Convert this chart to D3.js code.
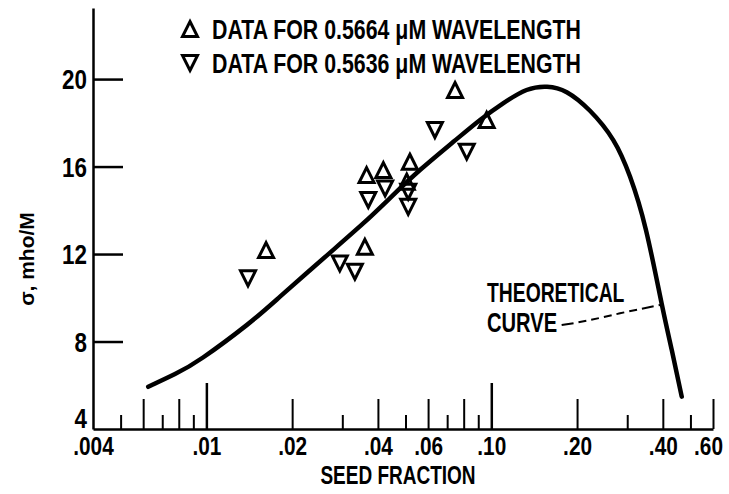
<!DOCTYPE html>
<html>
<head>
<meta charset="utf-8">
<script src="https://cdn.jsdelivr.net/npm/d3@7"></script>
<style>
  body { margin: 0; background: #fff; }
  svg { display: block; }
  .cond { font-family: "Liberation Sans", Arial, sans-serif; font-weight: bold; fill: #000; }
</style>
</head>
<body>
<div class="chart"></div>
<script>
// measured points, 0.5664 uM wavelength (up triangles)
const upSeed = [0.0162, 0.0360, 0.0365, 0.0418, 0.0505, 0.0518, 0.0746, 0.0963]
const upSigma = [12.18, 12.33, 15.61, 15.84, 15.31, 16.22, 19.5, 18.13]

// measured points, 0.5636 uM wavelength (down triangles)
const downSeed = [0.0140, 0.0294, 0.0332, 0.0370, 0.0424, 0.0511, 0.0511, 0.0634, 0.0820]
const downSigma = [10.89, 11.57, 11.19, 14.47, 15.0, 14.85, 14.16, 17.67, 16.68]

// theoretical curve
const curveSeed = [0.00625, 0.00776, 0.00973, 0.01385, 0.01813, 0.02644, 0.0355, 0.0441, 0.0562, 0.0736, 0.0913,
  0.110, 0.133, 0.157, 0.184, 0.222, 0.268, 0.307, 0.349, 0.396, 0.430, 0.466]
const curveSigma = [5.93, 6.51, 7.27, 8.75, 10.05, 11.93, 13.40, 14.56, 15.84, 17.13, 18.13,
  18.89, 19.50, 19.65, 19.40, 18.55, 17.21, 15.53, 13.10, 9.75, 7.61, 5.48]

// leader line from the "CURVE" label to the curve
const leaderSeed = [0.1766, 0.222, 0.283, 0.391]
const leaderSigma = [8.75, 8.98, 9.29, 9.67]

// axis ticks
const yTicks = [4, 8, 12, 16, 20]
const xMajor = [0.01, 0.1]
const xMid = [0.006, 0.008, 0.02, 0.04, 0.06, 0.08, 0.2, 0.4, 0.6]
const xMinor = [0.005, 0.007, 0.009, 0.03, 0.05, 0.07, 0.09, 0.3, 0.5]
const xLabelVals = [0.004, 0.01, 0.02, 0.04, 0.06, 0.1, 0.2, 0.4, 0.6]
const xLabels = [".004", ".01", ".02", ".04", ".06", ".10", ".20", ".40", ".60"]

const legendLabels = ["DATA FOR 0.5664 \u03bcM WAVELENGTH", "DATA FOR 0.5636 \u03bcM WAVELENGTH"]

const width = 729, height = 494

const svg = d3.select(".chart").append("svg").attr("width", width).attr("height", height)

const x = d3.scaleLog().domain([0.004, 0.6]).range([93, 713])
const y = d3.scaleLinear().domain([4, 23.25]).range([429, 8])

// narrow lettering: keep the glyph height, shrink the advance
const squeeze = (sel, f) => sel.each(function () {
  const w = this.getComputedTextLength()
  d3.select(this).attr("textLength", w * f).attr("lengthAdjust", "spacingAndGlyphs")
})

// y axis, ticks point into the plot
const yAxis = d3.axisLeft(y).tickValues(yTicks).tickSize(-30).tickSizeOuter(0).tickPadding(6)
const gy = svg.append("g").attr("transform", `translate(${x.range()[0]},0)`).call(yAxis)
gy.attr("font-size", null).attr("font-family", null)
gy.select(".domain").attr("stroke-width", 2.5)
gy.selectAll(".tick line").attr("stroke-width", 2.5).filter(d => d === 4).remove()
gy.selectAll(".tick text")
  .attr("class", "cond")
  .attr("font-size", 28)
  .attr("dy", d => (d === 4 ? "-0.04em" : "0.35em"))
  .call(squeeze, 0.8)

// x axis: baseline plus log ticks of three lengths
const tickLen = d => (xMajor.includes(d) ? 46 : xMid.includes(d) ? 30 : 14)
const xAxis = d3.axisBottom(x).tickValues([...xMajor, ...xMid, ...xMinor]).tickFormat("").tickSize(0).tickSizeOuter(0)
const gx = svg.append("g").attr("transform", `translate(0,${y(4)})`).call(xAxis)
gx.select(".domain").attr("stroke-width", 2.5)
gx.selectAll(".tick line")
  .attr("y2", d => -tickLen(d))
  .attr("stroke-width", d => (xMajor.includes(d) ? 2.5 : 2))

const xLabelAxis = d3.axisBottom(x).tickValues(xLabelVals)
  .tickFormat(d => xLabels[xLabelVals.indexOf(d)]).tickSize(0).tickPadding(8)
const gxl = svg.append("g").attr("transform", `translate(0,${y(4)})`).call(xLabelAxis)
gxl.attr("font-size", null).attr("font-family", null)
gxl.select(".domain").remove()
gxl.selectAll(".tick text")
  .attr("class", "cond")
  .attr("font-size", 26)
  .attr("dx", d => (d === 0.6 ? -5 : 0))
  .call(squeeze, 0.8)

// axis titles
svg.append("text")
  .attr("class", "cond")
  .attr("x", 398)
  .attr("y", 484)
  .attr("text-anchor", "middle")
  .attr("font-size", 25)
  .text("SEED FRACTION")
  .call(squeeze, 0.76)

svg.append("text")
  .attr("transform", "translate(26,259) rotate(-90)")
  .attr("text-anchor", "middle")
  .attr("dominant-baseline", "central")
  .style("font-family", "'Liberation Sans', Arial, sans-serif")
  .style("font-weight", "bold")
  .attr("font-size", 21)
  .text("\u03c3, mho/M")

// theoretical curve
const line = d3.line()
  .x(d => x(d[0]))
  .y(d => y(d[1]))
  .curve(d3.curveNatural)

svg.append("path")
  .datum(d3.zip(curveSeed, curveSigma))
  .attr("d", line)
  .attr("fill", "none")
  .attr("stroke", "#000")
  .attr("stroke-width", 4.5)
  .attr("stroke-linecap", "round")

svg.append("path")
  .datum(d3.zip(leaderSeed, leaderSigma))
  .attr("d", line)
  .attr("fill", "none")
  .attr("stroke", "#000")
  .attr("stroke-width", 2)
  .attr("stroke-dasharray", "12,5,8,5,8,5,8,5,8,5,8,5")

svg.append("text").attr("class", "cond").attr("font-size", 28)
  .attr("x", 487).attr("y", 302).text("THEORETICAL").call(squeeze, 0.69)
svg.append("text").attr("class", "cond").attr("font-size", 28)
  .attr("x", 487).attr("y", 332).text("CURVE").call(squeeze, 0.72)

// triangle markers
const tri = (dir, s) => `M0,${-dir * s}L${s},${dir * s}L${-s},${dir * s}Z`

const drawMarkers = (seed, sigma, dir) => {
  svg.append("g")
    .selectAll("path")
    .data(d3.zip(seed, sigma))
    .join("path")
    .attr("transform", d => `translate(${x(d[0])},${y(d[1])})`)
    .attr("d", tri(dir, 7.5))
    .attr("fill", "none")
    .attr("stroke", "#000")
    .attr("stroke-width", 3)
}
drawMarkers(upSeed, upSigma, 1)
drawMarkers(downSeed, downSigma, -1)

// legend
const legend = svg.append("g")
legendLabels.forEach((label, i) => {
  const ly = 29 + i * 34
  legend.append("path")
    .attr("transform", `translate(190,${ly})`)
    .attr("d", tri(i === 0 ? 1 : -1, 7.5))
    .attr("fill", "none")
    .attr("stroke", "#000")
    .attr("stroke-width", 3)
  legend.append("text")
    .attr("class", "cond")
    .attr("font-size", 27)
    .attr("x", 212)
    .attr("y", ly + 10)
    .text(label)
    .call(squeeze, 0.79)
})
</script>
</body>
</html>
